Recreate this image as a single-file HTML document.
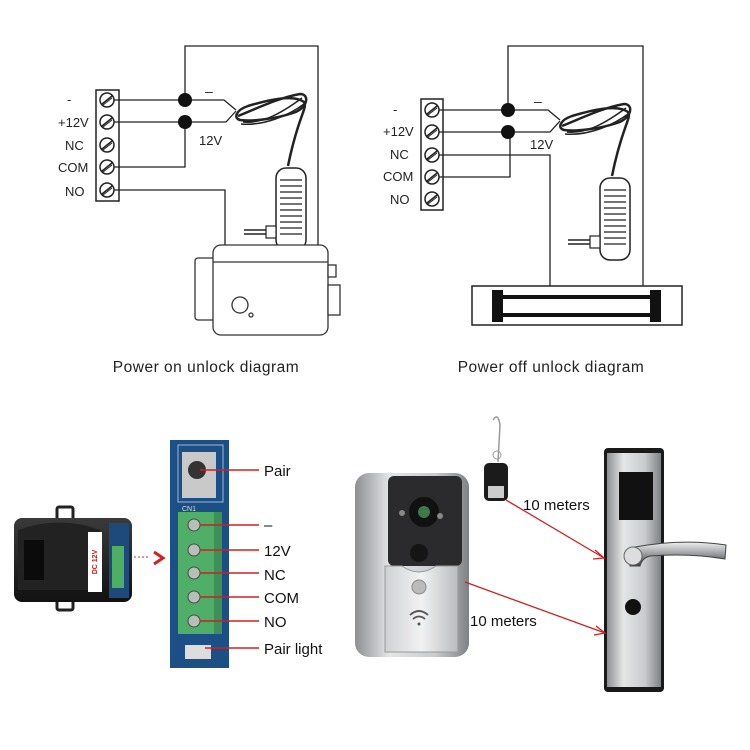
<!DOCTYPE html>
<html><head><meta charset="utf-8"><style>
html,body{margin:0;padding:0;background:#fff;}
svg{display:block;}
text{font-family:"Liberation Sans",sans-serif;}
</style></head><body>
<svg width="750" height="750" viewBox="0 0 750 750" xmlns="http://www.w3.org/2000/svg">
<defs>
<linearGradient id="sil" x1="0" x2="1"><stop offset="0" stop-color="#8d8f93"/><stop offset="0.3" stop-color="#e4e5e7"/><stop offset="0.7" stop-color="#c9cbcf"/><stop offset="1" stop-color="#7f8185"/></linearGradient>
<linearGradient id="sil2" x1="0" x2="1"><stop offset="0" stop-color="#cfd1d4"/><stop offset="0.5" stop-color="#f2f2f3"/><stop offset="1" stop-color="#b9bbbf"/></linearGradient>
<linearGradient id="hnd" x1="0" y1="0" x2="0" y2="1"><stop offset="0" stop-color="#f0f0f0"/><stop offset="0.5" stop-color="#9a9ca0"/><stop offset="1" stop-color="#3a3a3c"/></linearGradient>
<linearGradient id="blk" x1="0" y1="0" x2="0" y2="1"><stop offset="0" stop-color="#3a3a3a"/><stop offset="1" stop-color="#111"/></linearGradient>
<g id="scr"><circle r="7" fill="#fff" stroke="#222" stroke-width="1.5"/><line x1="-5" y1="4" x2="5" y2="-4" stroke="#222" stroke-width="1.5"/><line x1="-4" y1="5" x2="5" y2="-2" stroke="#222" stroke-width="1"/></g>
<g id="adp" fill="none" stroke="#222">
<path d="M0 0 C20 -8 40 -18 62 -22 C72 -22 70 -8 55 -3 C40 2 15 6 2 4 C-5 2 -2 -6 10 -10 C30 -16 55 -22 66 -14 C70 -8 60 0 50 50" stroke-width="2.5"/>
<path d="M5 6 C25 8 45 -4 64 -18" stroke-width="1.5"/>
<path d="M3 8 C25 10 50 0 66 -12" stroke-width="1.5"/>
<rect x="38" y="52" width="30" height="82" rx="10" fill="#fff" stroke-width="1.5"/>
<g stroke-width="1.2"><line x1="42" y1="64" x2="64" y2="64"/><line x1="42" y1="70" x2="64" y2="70"/><line x1="42" y1="76" x2="64" y2="76"/><line x1="42" y1="82" x2="64" y2="82"/><line x1="42" y1="88" x2="64" y2="88"/><line x1="42" y1="94" x2="64" y2="94"/><line x1="42" y1="100" x2="64" y2="100"/><line x1="42" y1="106" x2="64" y2="106"/><line x1="42" y1="112" x2="64" y2="112"/><line x1="42" y1="118" x2="64" y2="118"/></g>
<rect x="28" y="110" width="10" height="12" fill="#fff" stroke-width="1.2"/>
<line x1="6" y1="114" x2="28" y2="114" stroke-width="1.5"/><line x1="6" y1="118" x2="28" y2="118" stroke-width="1.5"/>
</g>
</defs>

<!-- LEFT DIAGRAM -->
<g font-size="13" fill="#222">
<text x="67" y="104">-</text><text x="58" y="127">+12V</text><text x="65" y="150">NC</text><text x="58" y="172">COM</text><text x="65" y="196">NO</text>
</g>
<rect x="96" y="90" width="23" height="111" fill="#fff" stroke="#222" stroke-width="1.5"/>
<use href="#scr" x="107" y="100"/><use href="#scr" x="107" y="122"/><use href="#scr" x="107" y="145"/><use href="#scr" x="107" y="167"/><use href="#scr" x="107" y="190"/>
<g fill="none" stroke="#222" stroke-width="1.3">
<path d="M114 100 H224 L236 110"/><path d="M114 122 H226 L236 111"/>
<path d="M185 100 V46 H318 V245"/><path d="M114 167 H185 V122"/><path d="M114 190 H225 V245"/>
</g>
<circle cx="185" cy="100" r="7" fill="#111"/><circle cx="185" cy="122" r="7" fill="#111"/>
<text x="205" y="96" font-size="14" fill="#222">–</text><text x="199" y="145" font-size="13" fill="#222">12V</text>
<use href="#adp" x="238" y="116"/>
<g stroke="#333" stroke-width="1.3" fill="#fff">
<rect x="195" y="258" width="20" height="62" rx="3"/>
<rect x="213" y="245" width="115" height="90" rx="8"/>
<line x1="213" y1="262" x2="328" y2="262"/>
<rect x="328" y="265" width="8" height="12"/><rect x="328" y="285" width="12" height="30"/>
<circle cx="240" cy="305" r="8"/><circle cx="251" cy="315" r="2"/>
</g>
<text x="206" y="372" font-size="15.5" letter-spacing="0.5" fill="#222" text-anchor="middle">Power on unlock diagram</text>

<!-- RIGHT DIAGRAM -->
<g font-size="13" fill="#222">
<text x="393" y="114">-</text><text x="383" y="136">+12V</text><text x="390" y="159">NC</text><text x="383" y="181">COM</text><text x="390" y="204">NO</text>
</g>
<rect x="421" y="99" width="22" height="111" fill="#fff" stroke="#222" stroke-width="1.5"/>
<use href="#scr" x="432" y="110"/><use href="#scr" x="432" y="132"/><use href="#scr" x="432" y="155"/><use href="#scr" x="432" y="177"/><use href="#scr" x="432" y="199"/>
<g fill="none" stroke="#222" stroke-width="1.3">
<path d="M439 110 H548 L560 120"/><path d="M439 132 H550 L560 121"/>
<path d="M508 110 V46 H643 V286"/><path d="M439 177 H510 V132"/><path d="M439 155 H550 V286"/>
</g>
<circle cx="508" cy="110" r="7" fill="#111"/><circle cx="508" cy="132" r="7" fill="#111"/>
<text x="534" y="106" font-size="14" fill="#222">–</text><text x="530" y="149" font-size="13" fill="#222">12V</text>
<use href="#adp" x="562" y="126"/>
<rect x="472" y="286" width="210" height="39" fill="#fff" stroke="#222" stroke-width="1.5"/>
<rect x="492" y="290" width="11" height="32" fill="#111"/><rect x="650" y="290" width="11" height="32" fill="#111"/>
<rect x="503" y="295" width="147" height="4" fill="#111"/><rect x="503" y="313" width="147" height="4" fill="#111"/>
<text x="551" y="372" font-size="15.5" letter-spacing="0.5" fill="#222" text-anchor="middle">Power off unlock diagram</text>

<!-- RECEIVER -->
<rect x="57" y="507" width="16" height="14" rx="2" fill="none" stroke="#222" stroke-width="3"/>
<rect x="57" y="596" width="16" height="14" rx="2" fill="none" stroke="#222" stroke-width="3"/>
<rect x="14" y="518" width="118" height="84" rx="8" fill="url(#blk)"/>
<path d="M18 530 Q60 515 100 530 L100 590 L18 590 Z" fill="#222"/>
<rect x="24" y="540" width="20" height="40" fill="#0b0b0b"/>
<rect x="88" y="532" width="14" height="60" fill="#fff"/>
<text x="97" y="562" font-size="7" font-weight="bold" fill="#c02020" transform="rotate(-90 97 562)" text-anchor="middle">DC 12V</text>
<rect x="109" y="523" width="20" height="75" fill="#1d4a7a"/>
<rect x="112" y="546" width="12" height="42" fill="#4caf64"/>
<line x1="134" y1="557" x2="150" y2="557" stroke="#c03030" stroke-width="1" stroke-dasharray="2 2"/>
<path d="M154 552 L163 558 L154 564" fill="none" stroke="#d02020" stroke-width="3"/>

<!-- PCB -->
<rect x="170" y="440" width="59" height="228" fill="#1c4f86"/>
<rect x="178" y="445" width="45" height="57" fill="none" stroke="#9bb8d8" stroke-width="1"/>
<rect x="182" y="452" width="34" height="46" fill="#c9c9c9"/>
<circle cx="197" cy="470" r="9" fill="#333"/>
<text x="182" y="511" font-size="7" fill="#ddd">CN1</text>
<rect x="178" y="512" width="44" height="122" fill="#4faf68"/>
<rect x="214" y="512" width="8" height="122" fill="#3d9156"/>
<g fill="#b6c0b8" stroke="#4a4a4a" stroke-width="1"><circle cx="194" cy="525" r="6"/><circle cx="194" cy="550" r="6"/><circle cx="194" cy="573" r="6"/><circle cx="194" cy="597" r="6"/><circle cx="194" cy="621" r="6"/></g>
<rect x="185" y="645" width="26" height="14" fill="#ddd"/>
<g stroke="#d02020" stroke-width="1.6">
<line x1="200" y1="470" x2="259" y2="470"/><line x1="200" y1="525" x2="259" y2="525"/><line x1="200" y1="550" x2="259" y2="550"/><line x1="200" y1="573" x2="259" y2="573"/><line x1="200" y1="597" x2="259" y2="597"/><line x1="200" y1="621" x2="259" y2="621"/><line x1="205" y1="648" x2="259" y2="648"/>
</g>
<g font-size="15" fill="#111">
<text x="264" y="476">Pair</text><text x="264" y="530">–</text><text x="264" y="556">12V</text><text x="264" y="580">NC</text><text x="264" y="603">COM</text><text x="264" y="627">NO</text><text x="264" y="654">Pair light</text>
</g>

<!-- DOORBELL -->
<rect x="355" y="473" width="114" height="184" rx="14" fill="url(#sil)"/>
<rect x="388" y="476" width="74" height="90" rx="6" fill="#2b2b2d"/>
<circle cx="424" cy="512" r="15" fill="#111"/><circle cx="424" cy="512" r="6" fill="#3c7a4a"/>
<circle cx="402" cy="513" r="3" fill="#888"/><circle cx="440" cy="516" r="3" fill="#888"/>
<circle cx="419" cy="553" r="9" fill="#151515"/>
<path d="M385 566 H402 Q419 578 436 566 H458 V652 H385 Z" fill="url(#sil2)" stroke="#999" stroke-width="1"/>
<circle cx="419" cy="587" r="7" fill="#bbb" stroke="#888"/>
<g fill="none" stroke="#555" stroke-width="1.8"><path d="M410 615 Q419 607 428 615"/><path d="M413 619 Q419 614 425 619"/></g>
<circle cx="419" cy="624" r="1.5" fill="#555"/>

<!-- REMOTE -->
<path d="M493 420 Q498 412 500 425 L498 462" fill="none" stroke="#999" stroke-width="1.5"/>
<circle cx="497" cy="455" r="4" fill="none" stroke="#999"/>
<rect x="484" y="463" width="24" height="38" rx="5" fill="#1b1b1b"/>
<rect x="488" y="486" width="16" height="12" fill="#ccc"/>

<!-- LOCK -->
<rect x="604" y="448" width="60" height="244" rx="4" fill="#1a1a1a"/>
<rect x="607" y="453" width="54" height="234" fill="url(#sil)"/>
<rect x="619" y="472" width="34" height="48" fill="#111"/>
<path d="M630 548 Q680 538 726 545 L725 559 Q690 553 650 556 Q642 558 640 566 L630 566 Z" fill="url(#hnd)" stroke="#444" stroke-width="1"/>
<circle cx="633" cy="556" r="9" fill="#ddd" stroke="#666"/>
<circle cx="633" cy="607" r="8" fill="#111"/>

<!-- ARROWS -->
<g stroke="#d02020" stroke-width="1.3" fill="none">
<line x1="506" y1="500" x2="604" y2="558"/><path d="M595 550 L604 558 L593 559"/>
<line x1="465" y1="582" x2="605" y2="633"/><path d="M596 626 L605 633 L594 635"/>
</g>
<text x="523" y="510" font-size="15" fill="#111">10 meters</text>
<text x="470" y="626" font-size="15" fill="#111">10 meters</text>
</svg>
</body></html>
